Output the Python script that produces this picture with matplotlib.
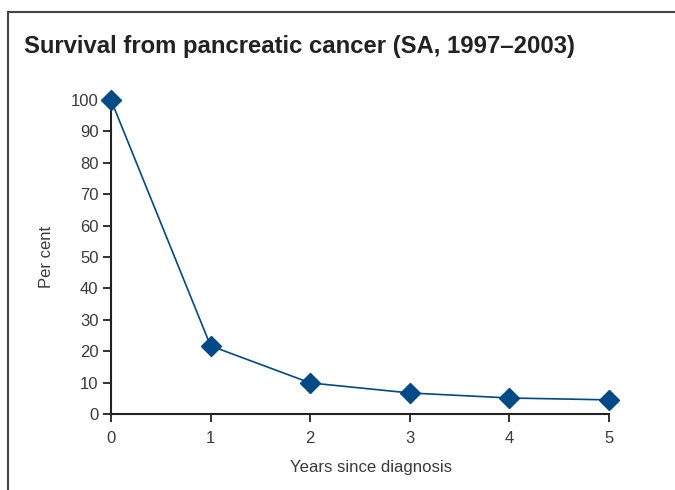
import matplotlib
matplotlib.use("Agg")
import matplotlib.pyplot as plt
from matplotlib.lines import Line2D

plt.rcParams['font.family'] = ['Liberation Sans', 'DejaVu Sans']

# 数据
years = [0, 1, 2, 3, 4, 5]
survival = [100, 21.7, 9.9, 6.7, 5.1, 4.5]
y_ticks = [0, 10, 20, 30, 40, 50, 60, 70, 80, 90, 100]

blue = '#004a87'
grey = '#3a3a3a'

fig = plt.figure(figsize=(6.75, 4.9), dpi=100)

# 外框 (上边和左边)
fig.add_artist(Line2D([8/675, 1], [1 - 12/490, 1 - 12/490], color='#444444', lw=1.5))
fig.add_artist(Line2D([8/675, 8/675], [0, 1 - 12/490], color='#444444', lw=1.5))

fig.text(24/675, 1 - 46/490, "Survival from pancreatic cancer (SA, 1997\u20132003)",
         fontsize=17.2, fontweight='bold', color='#222222', va='center', ha='left')

ax = fig.add_axes([111/675, 76/490, 498/675, 314/490])
ax.plot(years, survival, color=blue, lw=1.2, marker='D', markersize=10,
        markerfacecolor=blue, markeredgecolor=blue, clip_on=False, zorder=3)

ax.set_xlim(0, 5)
ax.set_ylim(0, 100)
ax.set_yticks(y_ticks)
ax.set_xticks(years)

for s in ['top', 'right']:
    ax.spines[s].set_visible(False)
for s in ['left', 'bottom']:
    ax.spines[s].set_color('#222222')
    ax.spines[s].set_linewidth(1.5)

ax.tick_params(axis='both', colors='#222222', labelcolor=grey, labelsize=12,
               length=6, width=1.3, direction='out')
ax.tick_params(axis='x', pad=6)
ax.tick_params(axis='y', pad=3)

ax.set_ylabel("Per cent", fontsize=12, color=grey, labelpad=12)
ax.set_xlabel("Years since diagnosis", fontsize=12.1, color=grey)
ax.xaxis.set_label_coords(0.522, -0.145)

fig.savefig("out.png", dpi=100)
